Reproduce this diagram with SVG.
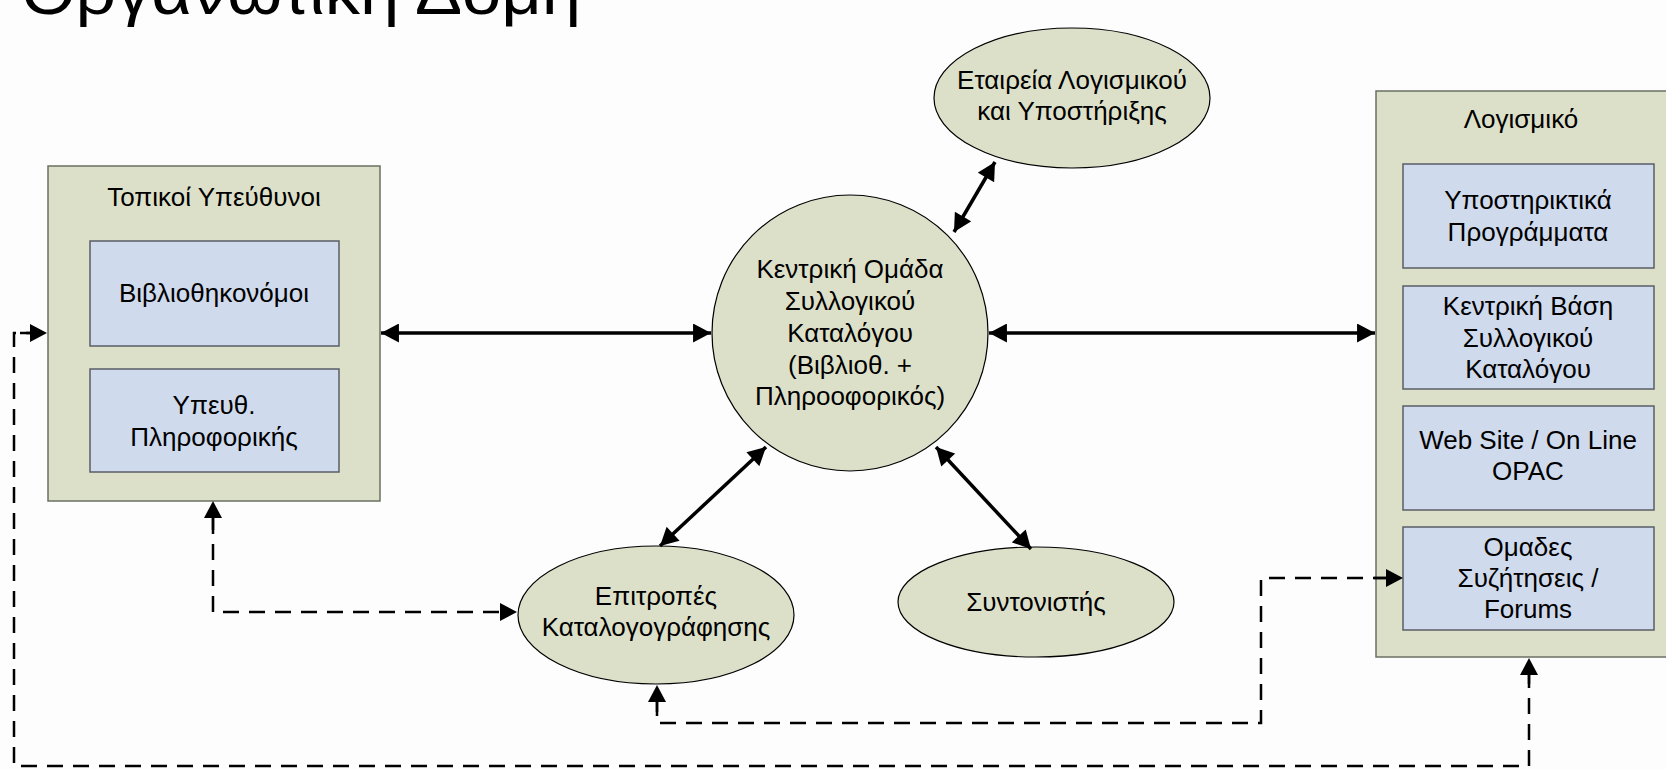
<svg xmlns="http://www.w3.org/2000/svg" width="1666" height="769" viewBox="0 0 1666 769">
<style>
.t{font-family:"Liberation Sans",Arial,sans-serif;font-size:26px;fill:#000;text-anchor:middle}
.outer{fill:#dde0c9;stroke:#6a7062;stroke-width:1.5}
.inner{fill:#cfdaec;stroke:#5a5e66;stroke-width:1.5}
.ell{fill:#dde0c9;stroke:#000;stroke-width:1.2}
.solid{fill:none;stroke:#000;stroke-width:3.5;marker-start:url(#ah);marker-end:url(#ah)}
.dash{fill:none;stroke:#000;stroke-width:2.5;stroke-dasharray:16 10}
</style>
<defs>
<marker id="ah" markerUnits="userSpaceOnUse" markerWidth="19" markerHeight="19" refX="17" refY="9" orient="auto-start-reverse" viewBox="0 0 17 18">
<path d="M0,0 L17,9 L0,18 z" fill="#000"/>
</marker>
</defs>
<rect width="1666" height="769" fill="#fdfdfd"/>
<text x="21" y="14" style="font-family:'Liberation Sans',Arial,sans-serif;font-size:64px" textLength="560" lengthAdjust="spacingAndGlyphs">Οργανωτική Δομή</text>

<g id="local">
<rect class="outer" x="48" y="166" width="332" height="335"/>
<text class="t" x="214" y="206">Τοπικοί Υπεύθυνοι</text>
</g>
<g id="librarians">
<rect class="inner" x="90" y="241" width="249" height="105"/>
<text class="t" x="214" y="302">Βιβλιοθηκονόμοι</text>
</g>
<g id="it">
<rect class="inner" x="90" y="369" width="249" height="103"/>
<text class="t" x="214" y="414">Υπευθ.</text>
<text class="t" x="214" y="446">Πληροφορικής</text>
</g>

<g id="software">
<rect class="outer" x="1376" y="91" width="300" height="566"/>
<text class="t" x="1521" y="128">Λογισμικό</text>
</g>
<g id="support">
<rect class="inner" x="1403" y="164" width="251" height="104"/>
<text class="t" x="1528" y="209">Υποστηρικτικά</text>
<text class="t" x="1528" y="241">Προγράμματα</text>
</g>
<g id="db">
<rect class="inner" x="1403" y="286" width="251" height="103"/>
<text class="t" x="1528" y="315">Κεντρική Βάση</text>
<text class="t" x="1528" y="347">Συλλογικού</text>
<text class="t" x="1528" y="378">Καταλόγου</text>
</g>
<g id="web">
<rect class="inner" x="1403" y="406" width="251" height="104"/>
<text class="t" x="1528" y="449">Web Site / On Line</text>
<text class="t" x="1528" y="480">OPAC</text>
</g>
<g id="forums">
<rect class="inner" x="1403" y="527" width="251" height="103"/>
<text class="t" x="1528" y="556">Ομαδες</text>
<text class="t" x="1528" y="587">Συζήτησεις /</text>
<text class="t" x="1528" y="618">Forums</text>
</g>

<g id="central">
<circle class="ell" cx="850" cy="333" r="138"/>
<text class="t" x="850" y="278">Κεντρική Ομάδα</text>
<text class="t" x="850" y="310">Συλλογικού</text>
<text class="t" x="850" y="342">Καταλόγου</text>
<text class="t" x="850" y="374">(Βιβλιοθ. +</text>
<text class="t" x="850" y="405">Πληροοφορικός)</text>
</g>
<g id="company">
<ellipse class="ell" cx="1072" cy="98" rx="138" ry="70"/>
<text class="t" x="1072" y="89">Εταιρεία Λογισμικού</text>
<text class="t" x="1072" y="120">και Υποστήριξης</text>
</g>
<g id="committees">
<ellipse class="ell" cx="656" cy="615" rx="138" ry="69"/>
<text class="t" x="656" y="605">Επιτροπές</text>
<text class="t" x="656" y="636">Καταλογογράφησης</text>
</g>
<g id="coordinator">
<ellipse class="ell" cx="1036" cy="602" rx="138" ry="55"/>
<text class="t" x="1036" y="611">Συντονιστής</text>
</g>

<g id="connectors">
<line class="solid" x1="381" y1="333" x2="711" y2="333"/>
<line class="solid" x1="989" y1="333" x2="1375" y2="333"/>
<line class="solid" x1="954" y1="232" x2="995" y2="162"/>
<line class="solid" x1="766" y1="447" x2="660" y2="546"/>
<line class="solid" x1="936" y1="447" x2="1031" y2="549"/>
<path class="dash" d="M213 518 V612 H502"/>
<path d="M213 501 L204 518 L222 518 z"/>
<path d="M517 612 L500 603 L500 621 z"/>
<path class="dash" d="M657 700 V723 H1261 V578 H1388"/>
<path d="M657 685 L648 702 L666 702 z"/>
<path d="M1403 578 L1386 569 L1386 587 z"/>
<path class="dash" d="M1529 672 V766 H14 V333 H32"/>
<path d="M1529 658 L1520 675 L1538 675 z"/>
<path d="M47 333 L30 324 L30 342 z"/>
<line x1="213" y1="515" x2="213" y2="530" stroke="#000" stroke-width="2.5"/>
<line x1="657" y1="698" x2="657" y2="712" stroke="#000" stroke-width="2.5"/>
<line x1="1374" y1="578" x2="1390" y2="578" stroke="#000" stroke-width="2.5"/>
<line x1="1529" y1="670" x2="1529" y2="684" stroke="#000" stroke-width="2.5"/>
<line x1="20" y1="333" x2="34" y2="333" stroke="#000" stroke-width="2.5"/>
</g>
</svg>
